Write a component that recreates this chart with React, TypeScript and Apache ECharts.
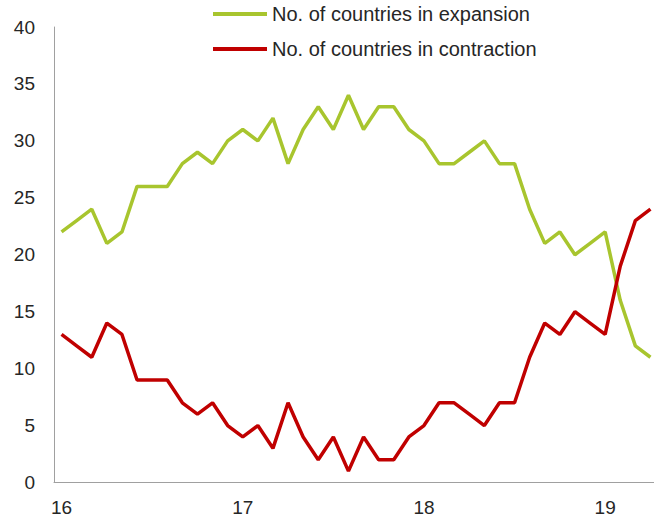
import React, { useEffect, useRef } from "react";
import * as echarts from "echarts";

const categories = [
  "Jan-16","Feb-16","Mar-16","Apr-16","May-16","Jun-16","Jul-16","Aug-16","Sep-16","Oct-16","Nov-16","Dec-16",
  "Jan-17","Feb-17","Mar-17","Apr-17","May-17","Jun-17","Jul-17","Aug-17","Sep-17","Oct-17","Nov-17","Dec-17",
  "Jan-18","Feb-18","Mar-18","Apr-18","May-18","Jun-18","Jul-18","Aug-18","Sep-18","Oct-18","Nov-18","Dec-18",
  "Jan-19","Feb-19","Mar-19","Apr-19",
];

const expansion = [
  22, 23, 24, 21, 22, 26, 26, 26, 28, 29, 28, 30,
  31, 30, 32, 28, 31, 33, 31, 34, 31, 33, 33, 31,
  30, 28, 28, 29, 30, 28, 28, 24, 21, 22, 20, 21,
  22, 16, 12, 11,
];

const contraction = [
  13, 12, 11, 14, 13, 9, 9, 9, 7, 6, 7, 5,
  4, 5, 3, 7, 4, 2, 4, 1, 4, 2, 2, 4,
  5, 7, 7, 6, 5, 7, 7, 11, 14, 13, 15, 14,
  13, 19, 23, 24,
];

const seriesNames = ["No. of countries in expansion", "No. of countries in contraction"];

export default function App() {
  const ref = useRef<HTMLDivElement>(null);
  useEffect(() => {
    if (!ref.current) return;
    const chart = echarts.init(ref.current, undefined, { renderer: "svg" });
    const font = "'Liberation Sans', Arial, sans-serif";
    chart.setOption({
      animation: false,
      textStyle: { fontFamily: font },
      legend: {
        orient: "vertical",
        left: 213,
        top: 3,
        padding: 0,
        itemWidth: 54,
        itemHeight: 4,
        itemGap: 13,
        icon: "rect",
        textStyle: { fontSize: 20, lineHeight: 22, color: "#262626", fontFamily: font },
        data: seriesNames,
      },
      grid: { left: 54, right: 2, top: 27, bottom: 35.5, containLabel: false },
      xAxis: {
        type: "category",
        data: categories,
        boundaryGap: true,
        axisLine: { lineStyle: { color: "#a0a0a0", width: 1 } },
        axisTick: { show: false },
        axisLabel: {
          interval: (i: number) => i % 12 === 0,
          formatter: (v: string) => v.slice(-2),
          fontSize: 19,
          color: "#262626",
          margin: 15,
          fontFamily: font,
        },
        splitLine: { show: false },
      },
      yAxis: {
        type: "value",
        min: 0,
        max: 40,
        interval: 5,
        axisLine: { show: true, lineStyle: { color: "#a0a0a0", width: 1 } },
        axisTick: { show: false },
        axisLabel: { fontSize: 19, color: "#262626", margin: 19, fontFamily: font },
        splitLine: { show: false },
      },
      series: [
        {
          name: seriesNames[0],
          type: "line",
          data: expansion,
          symbol: "none",
          lineStyle: { color: "#A8C52E", width: 3.5 },
          itemStyle: { color: "#A8C52E" },
        },
        {
          name: seriesNames[1],
          type: "line",
          data: contraction,
          symbol: "none",
          lineStyle: { color: "#C00000", width: 3.5 },
          itemStyle: { color: "#C00000" },
        },
      ],
    });
    return () => chart.dispose();
  }, []);
  return (
    <div
      ref={ref}
      style={{ position: "fixed", left: 0, top: 0, width: 660, height: 518, background: "#fff" }}
    />
  );
}
